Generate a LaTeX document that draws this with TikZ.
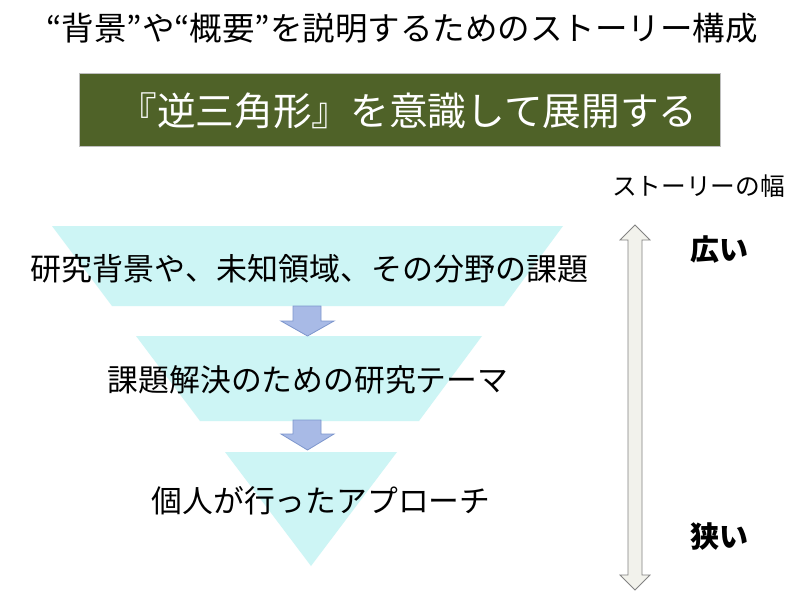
\documentclass[tikz,border=0pt]{standalone}
\usepackage{fontspec}
\newfontfamily\jp{Noto Sans CJK JP}
\definecolor{cyanfill}{RGB}{205,245,245}
\definecolor{olivebox}{RGB}{79,98,40}
\definecolor{arrfill}{RGB}{168,186,230}
\definecolor{arrdraw}{RGB}{125,150,205}
\definecolor{dblfill}{RGB}{242,242,236}
\definecolor{dbldraw}{RGB}{130,130,130}
\tikzset{
  band/.style={fill=cyanfill,draw=none},
  flowarrow/.style={fill=arrfill,draw=arrdraw,line width=0.8pt,line join=miter},
  txt/.style={inner sep=0pt,font=\jp,text=black},
}
\begin{document}
\begin{tikzpicture}[x=1pt,y=-1pt]
\useasboundingbox (0,0) rectangle (800,595);
\fill[white] (0,0) rectangle (800,595);
% title
\node[txt,font=\jp\fontsize{32.5}{32.5}\selectfont] (title) at (402,28) {“背景”や“概要”を説明するためのストーリー構成};
% green banner
\node[fill=olivebox,draw=black!25,line width=0.6pt,minimum width=641pt,minimum height=73pt,inner sep=0pt] (banner) at (400,109.5) {};
\node[txt,text=white,font=\jp\fontsize{38.7}{38.7}\selectfont] (bannertext) at (408,111) {『逆三角形』を意識して展開する};
% bands
\path[band] (52,226) -- (563,226) -- (504,306) -- (112,306) -- cycle;
\path[band] (136,336) -- (482,336) -- (419,421) -- (200,421) -- cycle;
\path[band] (225,452) -- (397,452) -- (311,566) -- cycle;
% flow arrows
\draw[flowarrow] (293,306) -- (321,306) -- (321,321) -- (334,321) -- (307.5,336) -- (281,321) -- (293,321) -- cycle;
\draw[flowarrow] (293,420) -- (321,420) -- (321,434) -- (334,434) -- (307.5,450) -- (281,434) -- (293,434) -- cycle;
% band texts
\node[txt,font=\jp\fontsize{31}{31}\selectfont] (t1) at (309.5,269) {研究背景や、未知領域、その分野の課題};
\node[txt,font=\jp\fontsize{30.8}{30.8}\selectfont] (t2) at (308,380) {課題解決のための研究テーマ};
\node[txt,font=\jp\fontsize{30.8}{30.8}\selectfont] (t3) at (321,501) {個人が行ったアプローチ};
% right side
\node[txt,font=\jp\fontsize{24.7}{24.7}\selectfont] (width) at (698.5,186) {ストーリーの幅};
\draw[fill=dblfill,draw=dbldraw,line width=0.8pt,line join=miter]
  (635,225) -- (650,240) -- (642,240) -- (642,575) -- (650,575) -- (635,590)
  -- (620,575) -- (628,575) -- (628,240) -- (620,240) -- cycle;
\node[txt,font=\jp\bfseries\fontsize{29}{29}\selectfont,anchor=west] (wide) at (690,250) {広い};
\node[txt,font=\jp\bfseries\fontsize{29}{29}\selectfont,anchor=west] (narrow) at (690,537) {狭い};
\end{tikzpicture}
\end{document}
